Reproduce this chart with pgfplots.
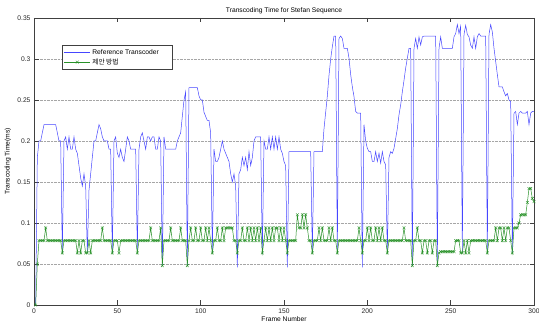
\documentclass[border=0pt]{standalone}
\usepackage{fontspec}
\setmainfont{Liberation Sans}
\newfontfamily\kr{Noto Sans CJK KR}
\usepackage{pgfplots}
\pgfplotsset{compat=1.18}
\usepackage{pgfplotstable}
\definecolor{refblue}{RGB}{70,70,255}
\definecolor{propgreen}{RGB}{40,145,40}
\newcommand{\sz}{\fontsize{6.7}{8}\selectfont}
\pgfplotstableread{
f b g
1 0 0
2 0.18 0.05
3 0.2 0.0785
4 0.2 0.0785
5 0.21 0.0785
6 0.22 0.0785
7 0.22 0.094
8 0.22 0.0785
9 0.22 0.0785
10 0.22 0.0785
11 0.22 0.0785
12 0.22 0.0785
13 0.22 0.0785
14 0.21 0.0785
15 0.2 0.0785
16 0.2 0.0785
17 0.064 0.0635
18 0.2 0.0785
19 0.205 0.0785
20 0.19 0.0785
21 0.205 0.0785
22 0.19 0.0785
23 0.19 0.0785
24 0.205 0.0785
25 0.19 0.0785
26 0.185 0.0635
27 0.17 0.0785
28 0.155 0.0635
29 0.145 0.0785
30 0.16 0.0785
31 0.145 0.0635
32 0.0635 0.0635
33 0.14 0.0785
34 0.16 0.0635
35 0.18 0.0785
36 0.2 0.0785
37 0.2 0.0785
38 0.21 0.0785
39 0.22 0.0785
40 0.215 0.0785
41 0.205 0.094
42 0.2 0.0785
43 0.2 0.0785
44 0.2 0.0785
45 0.19 0.0785
46 0.19 0.0785
47 0.0635 0.0635
48 0.2 0.0785
49 0.205 0.0785
50 0.185 0.0785
51 0.18 0.0635
52 0.19 0.0785
53 0.18 0.0785
54 0.175 0.0785
55 0.19 0.0785
56 0.205 0.0785
57 0.2 0.0785
58 0.19 0.0785
59 0.19 0.0785
60 0.19 0.0785
61 0.19 0.0785
62 0.066 0.0635
63 0.19 0.0785
64 0.205 0.0785
65 0.21 0.0785
66 0.2 0.0785
67 0.19 0.0785
68 0.205 0.0785
69 0.205 0.0785
70 0.2 0.094
71 0.205 0.0785
72 0.205 0.0785
73 0.19 0.0785
74 0.19 0.0785
75 0.205 0.0785
76 0.2 0.094
77 0.048 0.048
78 0.205 0.0785
79 0.19 0.0785
80 0.19 0.0785
81 0.19 0.0785
82 0.19 0.094
83 0.19 0.0785
84 0.19 0.0785
85 0.19 0.0785
86 0.2 0.0785
87 0.205 0.0785
88 0.21 0.094
89 0.23 0.0785
90 0.25 0.0785
91 0.26 0.0785
92 0.048 0.048
93 0.265 0.0785
94 0.265 0.094
95 0.265 0.0785
96 0.265 0.0785
97 0.265 0.094
98 0.265 0.0785
99 0.255 0.0785
100 0.25 0.094
101 0.25 0.0785
102 0.235 0.0785
103 0.23 0.094
104 0.225 0.0785
105 0.225 0.094
106 0.21 0.0785
107 0.0635 0.0635
108 0.19 0.0785
109 0.175 0.0785
110 0.175 0.094
111 0.18 0.0785
112 0.19 0.0785
113 0.2 0.094
114 0.19 0.0785
115 0.185 0.094
116 0.18 0.094
117 0.175 0.094
118 0.16 0.094
119 0.15 0.094
120 0.16 0.0785
121 0.145 0.0785
122 0.046 0.0635
123 0.16 0.0785
124 0.165 0.0785
125 0.18 0.094
126 0.17 0.0785
127 0.18 0.0785
128 0.165 0.094
129 0.187 0.0785
130 0.17 0.094
131 0.18 0.0785
132 0.2 0.094
133 0.205 0.0785
134 0.205 0.094
135 0.205 0.0785
136 0.205 0.094
137 0.062 0.0635
138 0.2 0.0785
139 0.19 0.094
140 0.19 0.0785
141 0.205 0.094
142 0.19 0.0785
143 0.205 0.094
144 0.19 0.0785
145 0.205 0.094
146 0.19 0.094
147 0.205 0.0785
148 0.19 0.094
149 0.185 0.0785
150 0.175 0.094
151 0.17 0.0785
152 0.046 0.0635
153 0.187 0.0785
154 0.187 0.0785
155 0.187 0.0785
156 0.187 0.0785
157 0.187 0.0785
158 0.187 0.11
159 0.187 0.094
160 0.187 0.094
161 0.187 0.11
162 0.187 0.094
163 0.187 0.11
164 0.187 0.094
165 0.187 0.0785
166 0.187 0.0785
167 0.064 0.0635
168 0.187 0.0785
169 0.187 0.0785
170 0.187 0.0785
171 0.187 0.094
172 0.187 0.0785
173 0.187 0.094
174 0.215 0.0785
175 0.235 0.0785
176 0.255 0.0785
177 0.28 0.094
178 0.3 0.0785
179 0.315 0.094
180 0.328 0.0785
181 0.328 0.0785
182 0.064 0.0635
183 0.325 0.0785
184 0.328 0.0785
185 0.325 0.0785
186 0.313 0.0785
187 0.313 0.0785
188 0.313 0.0785
189 0.301 0.0785
190 0.281 0.0785
191 0.266 0.0785
192 0.254 0.0785
193 0.236 0.0785
194 0.234 0.0785
195 0.234 0.094
196 0.234 0.0785
197 0.046 0.0635
198 0.22 0.0785
199 0.2 0.0785
200 0.191 0.094
201 0.187 0.0785
202 0.187 0.094
203 0.175 0.0785
204 0.175 0.0785
205 0.187 0.094
206 0.175 0.0785
207 0.185 0.094
208 0.173 0.0785
209 0.187 0.094
210 0.175 0.0785
211 0.171 0.0785
212 0.064 0.0635
213 0.18 0.0785
214 0.187 0.0785
215 0.185 0.0785
216 0.191 0.0785
217 0.203 0.0785
218 0.215 0.0785
219 0.232 0.0785
220 0.244 0.0785
221 0.26 0.0785
222 0.274 0.094
223 0.289 0.0785
224 0.301 0.0785
225 0.313 0.0785
226 0.313 0.0785
227 0.048 0.048
228 0.313 0.0785
229 0.325 0.0785
230 0.313 0.094
231 0.327 0.0785
232 0.317 0.0785
233 0.327 0.0635
234 0.328 0.0785
235 0.328 0.0785
236 0.328 0.0635
237 0.328 0.0785
238 0.328 0.0785
239 0.328 0.0635
240 0.328 0.0785
241 0.328 0.0785
242 0.048 0.048
243 0.313 0.0635
244 0.327 0.065
245 0.313 0.065
246 0.313 0.065
247 0.313 0.065
248 0.313 0.065
249 0.313 0.065
250 0.313 0.065
251 0.313 0.065
252 0.327 0.065
253 0.331 0.0785
254 0.342 0.0785
255 0.331 0.0785
256 0.34 0.0635
257 0.065 0.0635
258 0.33 0.0785
259 0.341 0.0635
260 0.33 0.0785
261 0.327 0.0635
262 0.317 0.0785
263 0.313 0.0785
264 0.327 0.0785
265 0.313 0.0785
266 0.327 0.0785
267 0.331 0.0785
268 0.328 0.0785
269 0.328 0.0785
270 0.328 0.0785
271 0.328 0.0785
272 0.064 0.0635
273 0.33 0.0785
274 0.342 0.0785
275 0.333 0.0785
276 0.313 0.0785
277 0.297 0.094
278 0.281 0.0785
279 0.266 0.094
280 0.266 0.094
281 0.266 0.0785
282 0.26 0.094
283 0.255 0.0785
284 0.258 0.094
285 0.25 0.094
286 0.248 0.0785
287 0.064 0.0635
288 0.234 0.094
289 0.236 0.094
290 0.22 0.094
291 0.234 0.1
292 0.236 0.11
293 0.234 0.11
294 0.234 0.11
295 0.234 0.11
296 0.236 0.125
297 0.22 0.142
298 0.234 0.142
299 0.236 0.13
300 0.236 0.126
}\data

\begin{document}
\begin{tikzpicture}
\begin{axis}[
  scale only axis, width=500pt, height=287pt,
  xmin=0, xmax=300, ymin=0, ymax=0.35,
  xtick={0,50,100,150,200,250,300},
  xticklabels={0,50,100,150,200,250,300},
  ytick={0,0.05,0.1,0.15,0.2,0.25,0.3,0.35},
  yticklabels={0,0.05,0.1,0.15,0.2,0.25,0.3,0.35},
  tick pos=both, tick align=inside,
  major tick length=4.5pt,
  tick style={black!75, line width=0.4pt},
  axis line style={black!75, line width=0.5pt},
  ymajorgrids,
  grid style={densely dotted, gray!70, line width=0.45pt},
  ticklabel style={font=\sz, text=black!85},
  title={Transcoding Time for Stefan Sequence},
  title style={font=\sz, at={(axis description cs:0.5,1)}, anchor=south, yshift=-5pt},
  xlabel={Frame Number},
  xlabel style={font=\sz, at={(axis description cs:0.5,0)}, anchor=north, yshift=-8pt},
  ylabel={Transcoding Time(ms)},
  ylabel style={font=\sz, at={(axis description cs:-0.052,0.5)}, anchor=center},
  legend style={font=\sz, at={(axis description cs:0.056,0.906)}, anchor=north west,
    draw=black!75, line width=0.5pt, inner sep=2pt, row sep=-1pt},
  legend cell align=left,
  legend image code/.code={\draw[mark repeat=2,mark phase=2,#1] plot coordinates {(0cm,0cm) (0.45cm,0cm) (0.9cm,0cm)};},
]
\coordinate (sw) at (rel axis cs:0,0);
\coordinate (ne) at (rel axis cs:1,1);
\addplot[refblue, line width=0.5pt, mark=none] table[x=f, y=b] {\data};
\addlegendentry{Reference Transcoder\hspace*{9pt}}
\addplot[propgreen, line width=0.5pt, mark=x, mark size=2pt, mark options={solid, line width=0.4pt}] table[x=f, y=g] {\data};
\addlegendentry{{\kr 제안 방법}}
\end{axis}
\pgfresetboundingbox
\path[use as bounding box] ([xshift=-34pt,yshift=-20pt]sw) rectangle ([xshift=5pt,yshift=18pt]ne);
\end{tikzpicture}
\end{document}
